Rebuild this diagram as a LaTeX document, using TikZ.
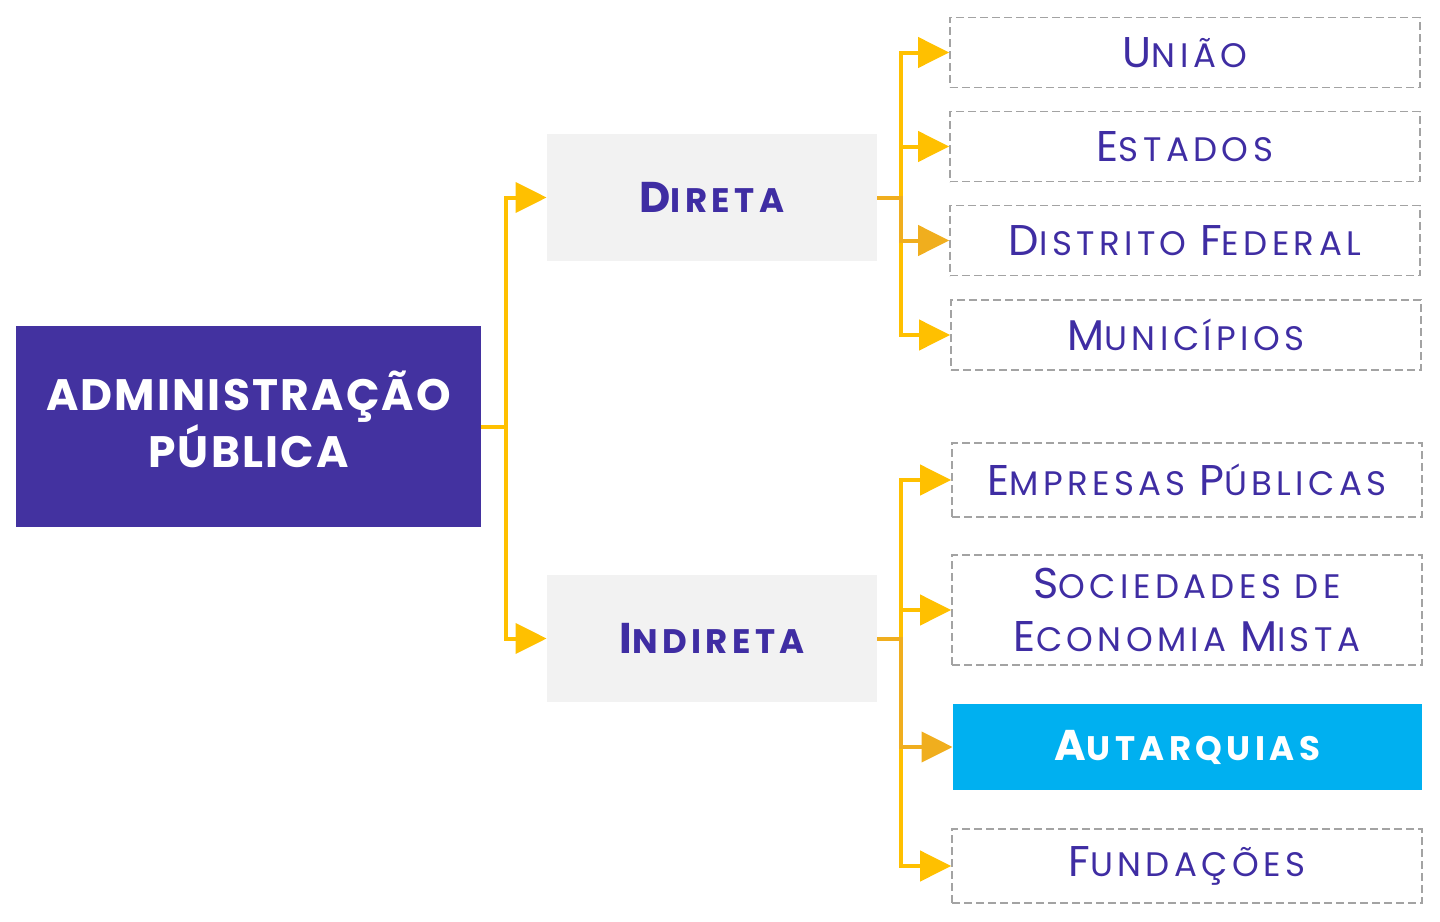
\documentclass[tikz,border=0pt]{standalone}
\usepackage{fontspec}
\setmainfont{Poppins}
\newfontfamily\itemfont{Poppins}[LetterSpace=13]
\newfontfamily\admfont{Poppins}[LetterSpace=5]
\usetikzlibrary{arrows.meta,positioning,calc}
\definecolor{admpurple}{HTML}{4332A0}
\definecolor{txtpurple}{HTML}{3F2DA3}
\definecolor{boxgray}{HTML}{F2F2F2}
\definecolor{dashgray}{HTML}{A3A3A3}
\definecolor{autblue}{HTML}{00B0F0}
\definecolor{linkyellow}{HTML}{FFC000}
\definecolor{linkorange}{HTML}{F0AE1E}

% fake small caps: big initial, smaller rest
\newcommand\capbig{\fontsize{21.5}{26.5}\selectfont}
\newcommand\capsmall{\fontsize{17}{26.5}\selectfont}
\newcommand\scword[2]{{\capbig #1}{\capsmall #2}}

\begin{document}
\begin{tikzpicture}[
  x=0.5pt, y=-0.5pt,
  mainbox/.style={fill=admpurple, text=white, font=\admfont\bfseries\fontsize{22}{26}\selectfont,
                  align=center, minimum width=232.5pt, minimum height=100.5pt, inner sep=0pt,
                  text depth=7pt},
  kindbox/.style={fill=boxgray, text=txtpurple, font=\itemfont\bfseries\capsmall, minimum width=165pt,
                  minimum height=63.5pt, inner sep=0pt},
  entity/.style={draw=dashgray, dash pattern=on 4pt off 2pt, line width=0.8pt, text=txtpurple,
                 font=\itemfont\capsmall, align=center, minimum width=235pt, minimum height=35pt,
                 inner sep=0pt},
  link/.style={-{Triangle[length=15.5pt, width=15pt]}, linkyellow, line width=2pt},
]
  \useasboundingbox (0,0) rectangle (1440,921);

  \node[mainbox] (adm) at (248.5,426.5) {ADMINISTRAÇÃO\\PÚBLICA};

  \node[kindbox] (dir) at (712,197.5) {\scword{D}{IRETA}};
  \node[kindbox] (ind) at (712,638.5) {\scword{I}{NDIRETA}};

  % direta
  \node[entity] (uni) at (1185,52.5)  {\scword{U}{NIÃO}};
  \node[entity] (est) at (1185,146.5) {\scword{E}{STADOS}};
  \node[entity] (dfe) at (1185,240.5) {\scword{D}{ISTRITO} \scword{F}{EDERAL}};
  \node[entity] (mun) at (1186,335)   {\scword{M}{UNICÍPIOS}};

  % indireta
  \node[entity, minimum height=37pt] (emp) at (1187,480) {\scword{E}{MPRESAS} \scword{P}{ÚBLICAS}};
  \node[entity, minimum height=55pt] (soc) at (1187,610)
    {\scword{S}{OCIEDADES} DE\\\scword{E}{CONOMIA} \scword{M}{ISTA}};
  \node[fill=autblue, text=white, font=\itemfont\bfseries\capsmall, minimum width=234.5pt,
        minimum height=43pt, inner sep=0pt] (aut) at (1187.5,747) {\scword{A}{UTARQUIAS}};
  \node[entity, minimum height=37pt] (fun) at (1187,866) {\scword{F}{UNDAÇÕES}};

  \draw[link] (adm.east) -- ++(25,0) |- (dir.west);
  \draw[link] (adm.east) -- ++(25,0) |- (ind.west);

  \foreach \n in {uni,est,mun}
    \draw[link] (dir.east) -- ++(24,0) |- (\n.west);
  \draw[link, linkorange] (dir.east) -- ++(24,0) |- (dfe.west);

  \foreach \n in {emp,soc,fun}
    \draw[link] (ind.east) -- ++(24,0) |- (\n.west);
  \draw[link, linkorange] (ind.east) -- ++(24,0) |- (aut.west);
\end{tikzpicture}
\end{document}
